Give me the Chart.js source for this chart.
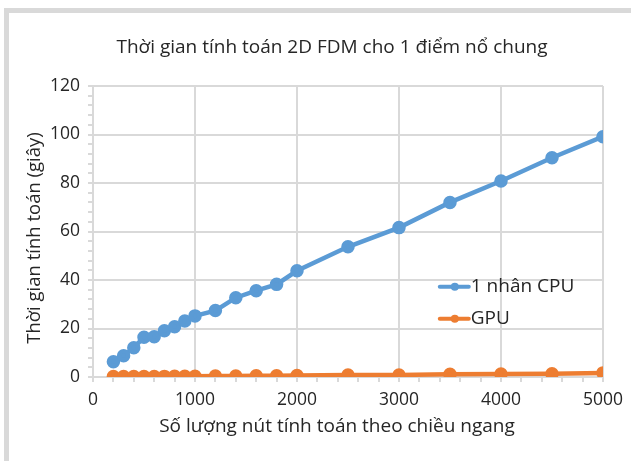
<!DOCTYPE html>
<html>
<head>
<meta charset="utf-8">
<script src="https://cdn.jsdelivr.net/npm/chart.js@4"></script>
<style>
  body { margin: 0; background: #fff; }
  .frame {
    position: absolute; left: 4px; top: 8px; width: 700px; height: 520px;
    border: 5px solid #d9d9d9; box-sizing: border-box;
  }
  .wrap { position: absolute; left: 0; top: 0; width: 631px; height: 461px; }
</style>
</head>
<body>
<div class="frame"></div>
<div class="wrap"><canvas id="fdmChart" width="631" height="461"></canvas></div>
<script>
const nodes = [200, 300, 400, 500, 600, 700, 800, 900, 1000, 1200, 1400, 1600, 1800, 2000, 2500, 3000, 3500, 4000, 4500, 5000];
const cpuTime = [6.3, 8.8, 12.1, 16.4, 16.6, 19.1, 20.7, 23.1, 25.2, 27.4, 32.7, 35.6, 38.2, 43.8, 53.7, 61.6, 72.0, 80.8, 90.4, 99.1];
const gpuTime = [0.2, 0.2, 0.2, 0.2, 0.2, 0.25, 0.3, 0.3, 0.35, 0.4, 0.45, 0.5, 0.55, 0.6, 0.8, 0.85, 1.1, 1.2, 1.3, 1.7];
const seriesNames = ["1 nhân CPU", "GPU"];
const seriesColors = ["#5b9bd5", "#ed7d31"];
const chartTitle = "Thời gian tính toán 2D FDM cho 1 điểm nổ chung";
const xTitle = "Số lượng nút tính toán theo chiều ngang";
const yTitle = "Thời gian tính toán (giây)";

const textColor = "#262626";
const gridColor = "#d9d9d9";
const fontFamily = "'Open Sans', 'Noto Sans', sans-serif";

// chart and axis titles, placed relative to the framed box
const boxTitles = {
  id: "boxTitles",
  afterDraw(chart) {
    const c = chart.ctx;
    c.save();
    c.fillStyle = textColor;
    c.textAlign = "center";
    c.textBaseline = "middle";
    c.font = "19px " + fontFamily;
    c.fillText(chartTitle, 332, 48);
    c.fillText(xTitle, 337, 427);
    c.translate(35, 238);
    c.rotate(-Math.PI / 2);
    c.font = "18.5px " + fontFamily;
    c.fillText(yTitle, 0, 0);
    c.restore();
  },
};

// legend drawn inside the plot, right side
const insideLegend = {
  id: "insideLegend",
  afterDraw(chart) {
    const c = chart.ctx;
    const area = chart.chartArea;
    const x0 = area.left + (area.right - area.left) * 0.68;
    const y0 = area.top + (area.bottom - area.top) * 0.69;
    chart.data.datasets.forEach((ds, i) => {
      const y = y0 + i * 32;
      c.save();
      c.strokeStyle = ds.borderColor;
      c.lineWidth = 4;
      c.lineCap = "round";
      c.beginPath();
      c.moveTo(x0, y);
      c.lineTo(x0 + 29, y);
      c.stroke();
      c.fillStyle = ds.borderColor;
      c.beginPath();
      c.arc(x0 + 15, y, 4, 0, Math.PI * 2);
      c.fill();
      c.fillStyle = textColor;
      c.font = "19px " + fontFamily;
      c.textBaseline = "middle";
      c.fillText(ds.label, x0 + 31, y);
      c.restore();
    });
  },
};

new Chart(document.getElementById("fdmChart"), {
  type: "line",
  data: {
    datasets: [
      {
        label: seriesNames[0],
        data: nodes.map((n, i) => ({ x: n, y: cpuTime[i] })),
        borderColor: seriesColors[0],
        backgroundColor: seriesColors[0],
        borderWidth: 4.5,
        pointRadius: 4.5,
        pointHoverRadius: 4.5,
      },
      {
        label: seriesNames[1],
        data: nodes.map((n, i) => ({ x: n, y: gpuTime[i] })),
        borderColor: seriesColors[1],
        backgroundColor: seriesColors[1],
        borderWidth: 4.5,
        pointRadius: 4.5,
        pointHoverRadius: 4.5,
      },
    ],
  },
  options: {
    responsive: false,
    animation: false,
    events: [],
    layout: { padding: { left: 0, right: 28, top: 86, bottom: 0 } },
    plugins: {
      legend: { display: false },
      tooltip: { enabled: false },
      title: { display: false },
    },
    scales: {
      x: {
        type: "linear",
        min: 0,
        max: 5000,
        afterFit: (scale) => { scale.height = 84; },
        border: { color: gridColor, width: 2 },
        grid: {
          color: (ctx) => (ctx.tick && ctx.tick.value % 1000 === 0 ? gridColor : "rgba(0,0,0,0)"),
          tickColor: gridColor,
          lineWidth: 2,
          tickLength: 5,
        },
        ticks: {
          stepSize: 200,
          autoSkip: false,
          maxRotation: 0,
          color: textColor,
          font: { family: fontFamily, size: 17.5 },
          padding: 8,
          callback: (v) => (v % 1000 === 0 ? v : ""),
        },
      },
      y: {
        min: 0,
        max: 120,
        afterFit: (scale) => { scale.width = 93; },
        border: { color: gridColor, width: 2 },
        grid: {
          color: (ctx) => (ctx.tick && ctx.tick.value % 20 === 0 ? gridColor : "rgba(0,0,0,0)"),
          tickColor: gridColor,
          lineWidth: 2,
          tickLength: 5,
        },
        ticks: {
          stepSize: 4,
          autoSkip: false,
          color: textColor,
          font: { family: fontFamily, size: 17.5 },
          padding: 8,
          callback: (v) => (v % 20 === 0 ? v : ""),
        },
      },
    },
  },
  plugins: [boxTitles, insideLegend],
});
</script>
</body>
</html>
